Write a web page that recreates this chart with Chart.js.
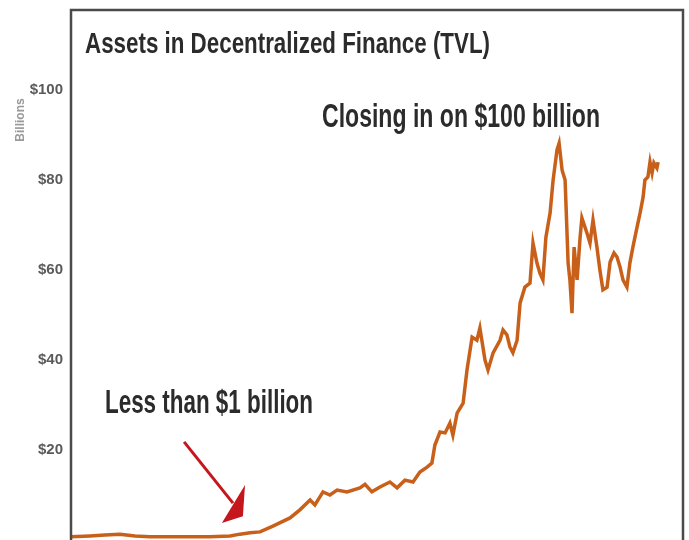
<!DOCTYPE html>
<html>
<head>
<meta charset="utf-8">
<script src="https://cdn.jsdelivr.net/npm/chart.js@4.4.0/dist/chart.umd.min.js"></script>
<style>
  html, body { margin: 0; padding: 0; background: #fff; overflow: hidden; }
  #wrap { width: 689px; height: 540px; position: relative; }
</style>
</head>
<body>
<div id="wrap"><canvas id="tvlChart"></canvas></div>
<script>
// weeks since start of series (roughly Jan 2018) and total value locked, $ billions
const weeks = [0, 6.3, 11.3, 16.3, 21.3, 26.3, 33, 39.7, 46.3, 53, 56.3, 59.7, 63, 67.3, 73, 76.3,
  79.7, 81.3, 84, 86.3, 88.7, 92, 96.3, 98, 100.3, 103, 106.3, 108.7, 111.3, 114, 116.3, 118.7,
  120.3, 121.3, 123, 124.7, 126.3, 127.3, 128.7, 130.7, 132, 133.7, 135.3, 136.3, 138, 139,
  140.7, 143, 144, 145.3, 146.3, 147.3, 148.7, 149.7, 151.3, 153, 154, 155.3, 156.3, 157.3,
  158.3, 159.7, 160.7, 162, 162.7, 163.7, 164.7, 165.7, 166.3, 167, 167.7, 168.7, 169.7, 170.3,
  172, 173, 174, 175.3, 176.3, 177.3, 178.7, 179.7, 181, 182, 183, 184, 185.3, 186.3, 187.3,
  188.7, 189.7, 190.7, 191.3, 192.3, 193, 193.7, 194.3, 195.3, 195.7];
const tvl = [0.7, 0.9, 1.1, 1.3, 0.9, 0.7, 0.7, 0.7, 0.7, 0.9, 1.3, 1.6, 1.8, 3.1, 4.9, 6.7,
  8.9, 7.8, 10.7, 10.0, 11.1, 10.7, 11.6, 12.4, 10.7, 11.8, 12.9, 11.6, 13.3, 12.9, 15.1, 16.2,
  17.1, 21.1, 24.0, 23.8, 26.0, 23.3, 28.2, 30.4, 37.8, 45.1, 44.4, 47.1, 40.0, 37.8,
  41.6, 44.4, 46.7, 45.6, 42.9, 41.6, 44.4, 52.7, 56.2, 57.1, 66.0, 61.6, 59.3, 57.8,
  67.3, 72.7, 80.0, 86.7, 88.2, 82.2, 80.0, 61.6, 57.8, 50.4, 65.1, 57.8, 67.3, 71.6,
  68.2, 66.0, 71.1, 65.1, 60.0, 55.6, 56.2, 61.8, 63.8, 62.9, 60.7, 57.8, 56.2, 61.6, 65.1,
  69.6, 72.7, 76.2, 80.0, 80.7, 84.0, 81.6, 83.8, 82.7, 84.0];
const yTicks = [20, 40, 60, 80, 100];

const titleText = 'Assets in Decentralized Finance (TVL)';
const noteHigh = 'Closing in on $100 billion';
const noteLow = 'Less than $1 billion';

// frame, texts and the red arrow
const decor = {
  id: 'decor',
  afterDraw(chart) {
    const { ctx, chartArea: a, scales } = chart;
    const sx = scales.x, sy = scales.y;
    ctx.save();
    // frame
    ctx.strokeStyle = '#4a4a4a';
    ctx.lineWidth = 2.5;
    ctx.beginPath();
    ctx.moveTo(a.left, a.bottom + 5);
    ctx.lineTo(a.left, a.top);
    ctx.lineTo(a.right, a.top);
    ctx.lineTo(a.right, a.bottom + 5);
    ctx.stroke();

    ctx.fillStyle = '#2b2b2b';
    ctx.textBaseline = 'alphabetic';
    ctx.textAlign = 'left';
    ctx.font = 'bold 29px "Liberation Sans Narrow", "Liberation Sans", sans-serif';
    ctx.fillText(titleText, a.left + 14, 53, 405);
    ctx.font = 'bold 33px "Liberation Sans Narrow", "Liberation Sans", sans-serif';
    ctx.fillText(noteHigh, 322, 127, 278);
    ctx.fillText(noteLow, 105, 413, 208);

    // axis unit label
    ctx.save();
    ctx.translate(24, 120);
    ctx.rotate(-Math.PI / 2);
    ctx.textAlign = 'center';
    ctx.fillStyle = '#999';
    ctx.font = 'bold 12px "Liberation Sans", sans-serif';
    ctx.fillText('Billions', 0, 0, 54);
    ctx.restore();

    // arrow, placed in data units
    const p = (w, v) => [sx.getPixelForValue(w), sy.getPixelForValue(v)];
    const [x0, y0] = p(37.7, 21.8);
    const [x1, y1] = p(54, 8.2);
    ctx.strokeStyle = '#c4161c';
    ctx.fillStyle = '#c4161c';
    ctx.lineWidth = 3;
    ctx.beginPath();
    ctx.moveTo(x0, y0);
    ctx.lineTo(x1, y1);
    ctx.stroke();
    const h1 = p(58, 12.2), h2 = p(50.3, 3.8), h3 = p(57.3, 5.3);
    ctx.beginPath();
    ctx.moveTo(h1[0], h1[1]);
    ctx.lineTo(h2[0], h2[1]);
    ctx.lineTo(h3[0], h3[1]);
    ctx.closePath();
    ctx.fill();
    ctx.restore();
  }
};

const ctx = document.getElementById('tvlChart');
new Chart(ctx, {
  type: 'line',
  data: {
    datasets: [{
      label: 'TVL',
      data: weeks.map((w, i) => ({ x: w, y: tvl[i] })),
      borderColor: '#c8601a',
      borderWidth: 3.5,
      pointRadius: 0,
      tension: 0,
      clip: false
    }]
  },
  options: {
    responsive: true,
    maintainAspectRatio: false,
    animation: false,
    layout: { autoPadding: false, padding: { top: 10, right: 6, bottom: 0, left: 0 } },
    plugins: { legend: { display: false }, tooltip: { enabled: false } },
    scales: {
      x: { type: 'linear', min: 0, max: 204, display: false },
      y: {
        min: 0,
        max: 117.8,
        afterFit(s) { s.width = 71; s.paddingTop = 0; s.paddingBottom = 0; },
        afterBuildTicks(s) { s.ticks = yTicks.map(v => ({ value: v })); },
        grid: { display: false, drawTicks: false },
        border: { display: false },
        ticks: {
          padding: 8,
          color: '#5a5a5a',
          font: { family: '"Liberation Sans Narrow", "Liberation Sans", sans-serif', size: 15, weight: 'bold' },
          callback: v => '$' + v
        }
      }
    }
  },
  plugins: [decor]
});
</script>
</body>
</html>
